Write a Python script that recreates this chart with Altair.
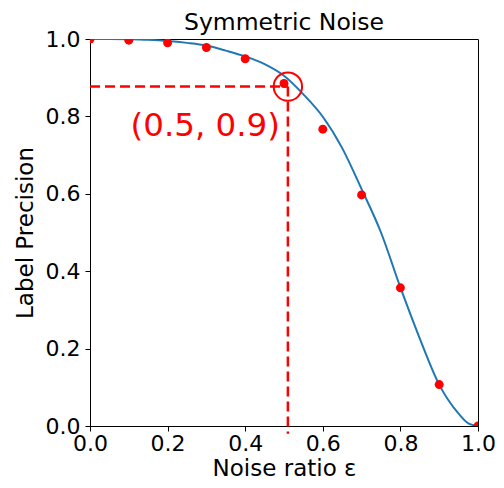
import altair as alt
import pandas as pd

# Observed points (red)
point_x = [0.0, 0.1, 0.2, 0.3, 0.4, 0.5, 0.6, 0.7, 0.8, 0.9, 1.0]
point_y = [1.0, 0.997, 0.99, 0.978, 0.949, 0.885, 0.767, 0.597, 0.357, 0.107, 0.0]

# Fitted curve (blue)
curve_x = [0.0, 0.05, 0.1, 0.15, 0.2, 0.25, 0.3, 0.35, 0.4, 0.45, 0.5, 0.55, 0.6,
           0.65, 0.7, 0.75, 0.8, 0.85, 0.9, 0.95, 0.975, 1.0]
curve_y = [1.0, 1.0, 0.9995, 0.998, 0.995, 0.99, 0.983, 0.970, 0.955, 0.935, 0.905,
           0.857, 0.799, 0.718, 0.612, 0.50, 0.358, 0.226, 0.107, 0.032, 0.007, 0.0]

# Highlighted point and annotation
mark_x = [0.51]
mark_y = [0.877]
label_text = ["(0.5, 0.9)"]
label_x = [0.297]
label_y = [0.775]

x_ticks = [0.0, 0.2, 0.4, 0.6, 0.8, 1.0]
y_ticks = [0.0, 0.2, 0.4, 0.6, 0.8, 1.0]

FONT = "DejaVu Sans"

xscale = alt.Scale(domain=[0, 1], nice=False, zero=False)
yscale = alt.Scale(domain=[0, 1], nice=False, zero=False)

xaxis = alt.Axis(values=x_ticks, format=".1f", title="Noise ratio ε", grid=False,
                 labelFontSize=22, titleFontSize=23, tickSize=5, labelPadding=2,
                 titlePadding=3, labelFlush=False, labelOverlap=False,
                 domainColor="black", tickColor="black", labelColor="black",
                 titleColor="black", labelFont=FONT, titleFont=FONT,
                 titleFontWeight="normal")
yaxis = alt.Axis(values=y_ticks, format=".1f", title="Label Precision", grid=False,
                 labelFontSize=22, titleFontSize=23, tickSize=5, labelPadding=5,
                 titlePadding=8, labelFlush=False, labelOverlap=False,
                 domainColor="black", tickColor="black", labelColor="black",
                 titleColor="black", labelFont=FONT, titleFont=FONT,
                 titleFontWeight="normal")


def X(field):
    return alt.X(field, type="quantitative", scale=xscale, axis=xaxis)


def Y(field):
    return alt.Y(field, type="quantitative", scale=yscale, axis=yaxis)


curve_df = pd.DataFrame({"x": curve_x, "y": curve_y})
pts_df = pd.DataFrame({"x": point_x, "y": point_y})
mark_df = pd.DataFrame({"x": mark_x, "y": mark_y, "x0": [0.0], "y0": [-0.02]})
label_df = pd.DataFrame({"x": label_x, "y": label_y, "t": label_text})

curve = alt.Chart(curve_df).mark_line(color="#1f77b4", strokeWidth=2,
                                      interpolate="monotone", clip=True).encode(
    x=X("x"), y=Y("y"))

points = alt.Chart(pts_df).mark_circle(color="red", size=80, opacity=1,
                                       clip=True).encode(x=X("x"), y=Y("y"))

hrule = alt.Chart(mark_df).mark_rule(color="red", strokeWidth=2.5,
                                     strokeDash=[10, 5]).encode(
    x=X("x0"), x2="x", y=Y("y"))

vrule = alt.Chart(mark_df).mark_rule(color="red", strokeWidth=2.5,
                                     strokeDash=[10, 5], clip=False).encode(
    x=X("x"), y=Y("y"), y2="y0")

circle = alt.Chart(mark_df).mark_point(shape="circle", size=804, filled=False,
                                       color="red", strokeWidth=2,
                                       opacity=1).encode(x=X("x"), y=Y("y"))

label = alt.Chart(label_df).mark_text(color="red", fontSize=32.5, font=FONT,
                                      align="center", baseline="middle").encode(
    x=X("x"), y=Y("y"), text="t:N")

chart = alt.layer(curve, points, hrule, vrule, circle, label).properties(
    width=388, height=387,
    title="Symmetric Noise",
    autosize=alt.AutoSizeParams(type="none"),
    padding={"left": 82, "top": 31, "right": 18, "bottom": 54},
).configure_view(stroke="black", strokeWidth=1).configure_title(
    fontSize=23.5, font=FONT, fontWeight="normal", color="black", offset=-6
)

chart.save("out.html", embed_options={"renderer": "svg", "actions": False})
